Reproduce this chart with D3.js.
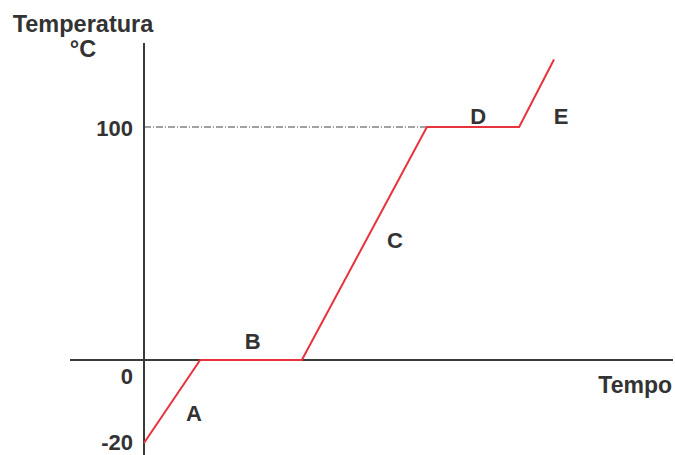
<!DOCTYPE html>
<html>
<head>
<meta charset="utf-8">
<script src="https://cdn.jsdelivr.net/npm/d3@7"></script>
<style>
  body { margin: 0; background: #fff; }
  text { font-family: "Liberation Sans", Arial, sans-serif; font-weight: bold; fill: #333; }
</style>
</head>
<body>
<div id="chart"></div>
<script>
// Data: heating curve of water
const times = [0, 13.7, 38.5, 69, 91.5, 100]
const temps = [-20, 0, 0, 100, 100, 129]
const yTickValues = [-20, 0, 100]
const phaseLabels = ['A', 'B', 'C', 'D', 'E']
// label anchor (time, temperature) for each phase
const phaseLabelTimes = [12.2, 26.5, 61.2, 81.5, 101.7]
const phaseLabelTemps = [-14.7, 4.8, 48, 101.5, 101.5]

const width = 675
const height = 455

const svg = d3.select('#chart')
    .append('svg')
    .attr('width', width)
    .attr('height', height)

// Scales (the original drawing uses a stretched lower part of the axis)
const x = d3.scaleLinear()
    .domain([0, 100])
    .range([144, 554])

const y = d3.scaleLinear()
    .domain([-20, 0, 100])
    .range([443, 360, 127])

// Horizontal axis
svg.append('line')
    .attr('x1', 70).attr('x2', 673)
    .attr('y1', y(0)).attr('y2', y(0))
    .attr('stroke', '#3a3a3a')
    .attr('stroke-width', 2)

// Vertical axis
svg.append('line')
    .attr('x1', x(0)).attr('x2', x(0))
    .attr('y1', 43).attr('y2', height)
    .attr('stroke', '#3a3a3a')
    .attr('stroke-width', 2)

// Reference line at 100
svg.append('line')
    .attr('x1', x(0)).attr('x2', x(times[3]))
    .attr('y1', y(100)).attr('y2', y(100))
    .attr('stroke', '#444')
    .attr('stroke-width', 1.2)
    .attr('stroke-dasharray', '7,2,1,2')

// Tick labels
svg.selectAll('.ytick')
    .data(yTickValues)
    .enter()
    .append('text')
    .attr('class', 'ytick')
    .attr('x', 133)
    .attr('y', d => d === 0 ? y(d) + 24 : (d < 0 ? y(d) + 7 : y(d) + 9))
    .attr('text-anchor', 'end')
    .style('font-size', '22px')
    .text(d => d)

// Heating curve
const line = d3.line()
    .x((d, i) => x(times[i]))
    .y(d => y(d))

svg.append('path')
    .datum(temps)
    .attr('d', line)
    .attr('fill', 'none')
    .attr('stroke', '#e8323c')
    .attr('stroke-width', 2)

// Phase labels
svg.selectAll('.phase')
    .data(phaseLabels)
    .enter()
    .append('text')
    .attr('class', 'phase')
    .attr('x', (d, i) => x(phaseLabelTimes[i]))
    .attr('y', (d, i) => y(phaseLabelTemps[i]))
    .attr('text-anchor', 'middle')
    .style('font-size', '22px')
    .text(d => d)

// Axis titles
svg.append('text')
    .attr('x', 83).attr('y', 32)
    .attr('text-anchor', 'middle')
    .style('font-size', '23.5px')
    .text('Temperatura')

svg.append('text')
    .attr('x', 83).attr('y', 57)
    .attr('text-anchor', 'middle')
    .style('font-size', '23.5px')
    .text('°C')

svg.append('text')
    .attr('x', 672).attr('y', 393)
    .attr('text-anchor', 'end')
    .style('font-size', '23px')
    .text('Tempo')
</script>
</body>
</html>
